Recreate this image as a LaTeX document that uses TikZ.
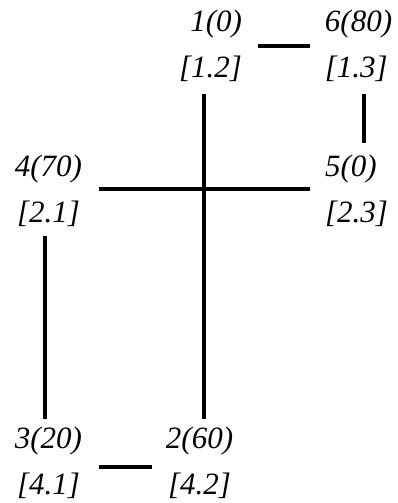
\documentclass[tikz,border=0pt]{standalone}
\usepackage{fontspec}
\setmainfont{Liberation Serif}
\begin{document}
\begin{tikzpicture}[x=1pt,y=-1pt,
  lbl/.style={inner sep=0pt, font=\fontsize{31}{46}\selectfont\itshape},
  edge/.style={line width=4pt}]
\useasboundingbox (0,0) rectangle (397,503);
\node[lbl, align=right] (n1) at (210.5,46) {1(0)\\{[}1.2{]}};
\node[lbl, align=left] (n6) at (358.5,46) {6(80)\\{[}1.3{]}};
\node[lbl, align=center] (n4) at (48.5,191) {4(70)\\{[}2.1{]}};
\node[lbl, align=left] (n5) at (356.5,191) {5(0)\\{[}2.3{]}};
\node[lbl, align=center] (n3) at (48.5,463) {3(20)\\{[}4.1{]}};
\node[lbl, align=center] (n2) at (199.5,463) {2(60)\\{[}4.2{]}};
\coordinate (x12) at (204,0);
\coordinate (x65) at (364,0);
\coordinate (x43) at (45,0);
\coordinate (y16) at (0,46);
\coordinate (y45) at (0,189);
\coordinate (y32) at (0,467);
\draw[edge, shorten <=16pt, shorten >=15pt] (n1.east |- y16) -- (n6.west |- y16);
\draw[edge, shorten <=12pt, shorten >=8pt] (n1.south -| x12) -- (n2.north -| x12);
\draw[edge, shorten <=12pt, shorten >=12pt] (n6.south -| x65) -- (n5.north -| x65);
\draw[edge, shorten <=16.5pt, shorten >=15pt] (n4.east |- y45) -- (n5.west |- y45);
\draw[edge, shorten <=9pt, shorten >=8pt] (n4.south -| x43) -- (n3.north -| x43);
\draw[edge, shorten <=16.5pt, shorten >=14pt] (n3.east |- y32) -- (n2.west |- y32);
\end{tikzpicture}
\end{document}
